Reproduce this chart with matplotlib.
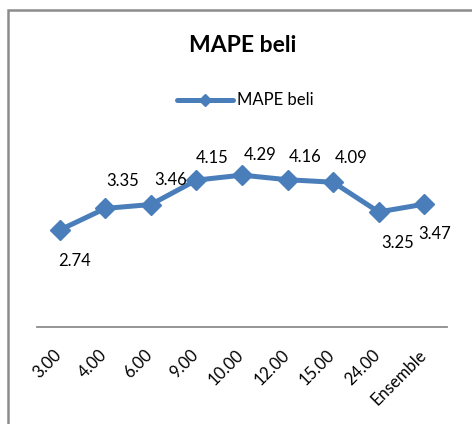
import matplotlib.pyplot as plt
import matplotlib.transforms as mtransforms
from matplotlib.patches import Rectangle
from matplotlib.lines import Line2D

plt.rcParams['font.family'] = ['Lato', 'DejaVu Sans']

categories = ['3.00', '4.00', '6.00', '9.00', '10.00', '12.00', '15.00', '24.00', 'Ensemble']
mape_beli = [2.74, 3.35, 3.46, 4.15, 4.29, 4.16, 4.09, 3.25, 3.47]

# label offsets in pixels (dx, dy), excel put them a bit everywhere
label_offsets = [(15, -31), (17, 27), (20, 25), (16, 22), (18, 20), (18, 23), (18, 24), (19, -31), (10, -30)]

W, H = 472, 424
fig = plt.figure(figsize=(W / 100, H / 100), dpi=100)

# chart frame (runs off right and bottom)
fig.patches.append(Rectangle((7.5 / W, -0.1), 1.2, 1 - 9.5 / H + 0.1, transform=fig.transFigure,
                             fill=False, edgecolor='#8c8c8c', linewidth=1.8))

ax = fig.add_axes([37 / W, 1 - 327 / H, (447 - 37) / W, (327 - 150) / H])
col = '#4a7ebb'
x = list(range(len(categories)))
ax.plot(x, mape_beli, color=col, linewidth=3.6, marker='D', markersize=10, label='MAPE beli')

for xi, v, (dx, dy) in zip(x, mape_beli, label_offsets):
    ax.annotate('%.2f' % v, (xi, v), xytext=(dx, dy), textcoords='offset pixels',
                ha='center', va='center', fontsize=12)

ax.set_xlim(-0.5, len(categories) - 0.5)
ax.set_ylim(0, 5)
ax.set_xticks(x)
ax.set_xticklabels(categories, rotation=45, ha='right', va='top', fontsize=12)
ax.tick_params(axis='x', length=0, pad=14)
shift = mtransforms.ScaledTranslation(5 / 100, 0, fig.dpi_scale_trans)
for lab in ax.get_xticklabels():
    lab.set_transform(lab.get_transform() + shift)
ax.set_yticks([])
for s in ['top', 'right', 'left']:
    ax.spines[s].set_visible(False)
ax.spines['bottom'].set_color('#8c8c8c')
ax.spines['bottom'].set_linewidth(1.3)
ax.patch.set_visible(False)

fig.text(243 / W, 1 - 46 / H, 'MAPE beli', ha='center', va='center', fontsize=16.5, fontweight='bold')

# legend drawn by hand like excel
fig.lines.append(Line2D([177 / W, 233 / W], [1 - 100 / H, 1 - 100 / H], transform=fig.transFigure,
                        color=col, linewidth=3.6, solid_capstyle='round'))
fig.lines.append(Line2D([205 / W], [1 - 100 / H], transform=fig.transFigure,
                        color=col, marker='D', markersize=6))
fig.text(237 / W, 1 - 100 / H, 'MAPE beli', ha='left', va='center', fontsize=12)

fig.savefig('out.png', dpi=100)
